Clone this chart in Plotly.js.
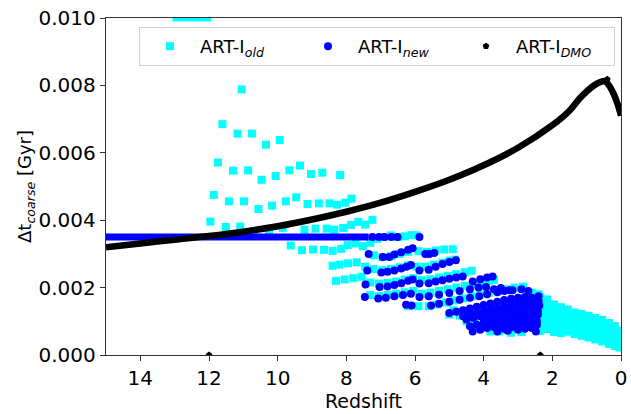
<!DOCTYPE html>
<html><head><meta charset="utf-8">
<script src="https://cdn.plot.ly/plotly-3.0.1.min.js"></script>
<style>body{margin:0;padding:0;background:#fff}#chart{width:631px;height:414px}</style>
</head><body><div id="chart"></div>
<script>
// ---- ART-I old (cyan squares) ----
const oldTopZ = [12.95, 12.8, 12.65, 12.5, 12.35, 12.2, 12.05];
const oldTopY = [0.01002, 0.01002, 0.01002, 0.01002, 0.01002, 0.01002, 0.01002];
const oldHighZ = [11.05, 11.61, 11.17, 10.75, 10.34, 9.94, 11.74, 11.30, 10.86, 10.47, 10.06, 9.66, 9.35, 9.03, 8.70, 8.18,
  11.86, 11.42, 10.98, 10.56, 10.16, 9.76, 9.46, 9.13, 8.80, 8.49, 8.27, 8.03, 7.85,
  11.96, 11.51, 11.09, 10.68, 10.25, 9.85, 9.22, 8.90, 8.57, 8.35, 8.09, 7.86, 7.65, 7.45, 7.24,
  9.62, 9.29, 8.97, 8.65, 8.40, 8.15, 7.96, 7.73, 7.52, 7.30];
const oldHighY = [0.00788, 0.00685, 0.00657, 0.00657, 0.00624, 0.00638, 0.00571, 0.00547, 0.00548, 0.00520, 0.00531, 0.00548, 0.00562, 0.00537, 0.00541, 0.00534,
  0.00475, 0.00456, 0.00456, 0.00433, 0.00443, 0.00456, 0.00468, 0.00448, 0.00450, 0.00450, 0.00446, 0.00452, 0.00464,
  0.00396, 0.00380, 0.00381, 0.00368, 0.00364, 0.00377, 0.00372, 0.00375, 0.00375, 0.00372, 0.00377, 0.00386, 0.00395, 0.00387, 0.00401,
  0.00325, 0.00311, 0.00313, 0.00312, 0.00309, 0.00315, 0.00326, 0.00331, 0.00323, 0.00333];
const oldRowsZ = [7.1, 6.9, 6.7, 6.5, 6.3, 6.1, 5.95,
  7.2, 6.95, 6.7, 6.45, 6.2, 5.9, 5.65, 5.4, 5.15, 4.9,
  8.4, 8.2, 7.95, 7.7, 7.45, 7.2, 6.95, 6.7, 6.45, 6.2, 5.95, 5.7, 5.45, 5.2, 5.0, 4.84,
  8.3, 8.05, 7.8, 7.55, 7.3, 7.05, 6.8, 6.55, 6.3, 6.05, 5.8, 5.55, 5.3, 5.05, 4.8, 4.55, 4.35,
  7.3, 7.05, 6.8, 6.55, 6.3, 6.05, 5.8, 5.55, 5.3, 5.05, 4.8, 4.55, 4.3, 4.05, 3.85, 3.7,
  6.2, 5.9, 5.6, 5.35, 5.1, 4.85, 4.6, 4.35, 4.1, 3.85, 3.6, 3.35, 3.1, 2.85, 2.6, 2.4,
  5.0, 4.88, 4.65, 4.4, 4.15, 3.9, 3.65, 3.4, 3.15, 2.9, 2.65, 2.45,
  4.7, 4.5, 4.25, 4.0, 3.75, 3.5, 3.25, 3.0, 2.75, 2.5,
  4.1, 3.8, 3.55, 3.3, 3.05, 2.8, 2.55,
  3.55, 3.2, 2.9];
const oldRowsY = [0.00345, 0.0035, 0.00355, 0.0035, 0.00352, 0.00356, 0.00355,
  0.00296, 0.00290, 0.00293, 0.00300, 0.00306, 0.00308, 0.00306, 0.00310, 0.00313, 0.00314,
  0.00265, 0.00268, 0.00272, 0.00275, 0.00262, 0.00255, 0.00252, 0.00255, 0.00260, 0.00266, 0.00262, 0.00262, 0.00268, 0.00274, 0.00280, 0.00283,
  0.00220, 0.00224, 0.00228, 0.00232, 0.00215, 0.00212, 0.00214, 0.00218, 0.00224, 0.00228, 0.00222, 0.00225, 0.00230, 0.00235, 0.00240, 0.00246, 0.00250,
  0.00178, 0.00175, 0.00178, 0.00182, 0.00186, 0.00190, 0.00182, 0.00185, 0.00190, 0.00195, 0.00200, 0.00205, 0.00210, 0.00215, 0.00220, 0.00223,
  0.00145, 0.00145, 0.00145, 0.00150, 0.00156, 0.00162, 0.00168, 0.00174, 0.00180, 0.00185, 0.00190, 0.00195, 0.00200, 0.00203, 0.00185, 0.00180,
  0.00120, 0.00133, 0.00128, 0.00132, 0.00138, 0.00144, 0.00150, 0.00156, 0.00162, 0.00168, 0.00172, 0.00160,
  0.00117, 0.00100, 0.00095, 0.00090, 0.00095, 0.00100, 0.00105, 0.00110, 0.00118, 0.00125,
  0.00080, 0.00070, 0.00072, 0.00075, 0.00080, 0.00085, 0.00090,
  0.00070, 0.00066, 0.00068];
const oldBandZ = [2.35, 2.35, 2.35, 2.35, 2.35, 2.35, 2.15, 2.15, 2.15, 2.15, 2.15, 1.95, 1.95, 1.95, 1.95, 1.95,
  1.75, 1.75, 1.75, 1.75, 1.75, 1.55, 1.55, 1.55, 1.55, 1.35, 1.35, 1.35, 1.35, 1.15, 1.15, 1.15, 1.15,
  0.95, 0.95, 0.95, 0.95, 0.75, 0.75, 0.75, 0.75, 0.55, 0.55, 0.55, 0.55, 0.35, 0.35, 0.35, 0.35,
  0.18, 0.18, 0.18, 0.18, 0.03, 0.03, 0.03, 0.03];
const oldBandY = [0.00172, 0.00150, 0.00128, 0.00106, 0.00084, 0.00072, 0.00165, 0.00143, 0.00121, 0.00099, 0.00077, 0.00150, 0.00128, 0.00106, 0.00084, 0.00068,
  0.00142, 0.00120, 0.00098, 0.00076, 0.00065, 0.00135, 0.00113, 0.00091, 0.00069, 0.00126, 0.00104, 0.00082, 0.00062, 0.00122, 0.00100, 0.00078, 0.00057,
  0.00116, 0.00094, 0.00072, 0.00052, 0.00110, 0.00088, 0.00066, 0.00046, 0.00104, 0.00082, 0.00060, 0.00040, 0.00095, 0.00073, 0.00051, 0.00033,
  0.00086, 0.00064, 0.00042, 0.00027, 0.00072, 0.00052, 0.00034, 0.00022];

// ---- ART-I new (blue circles) ----
const newLineZ = [15, 14, 13, 12, 11, 10, 9, 8, 7.35];
const newLineY = [0.0035, 0.0035, 0.0035, 0.0035, 0.0035, 0.0035, 0.0035, 0.0035, 0.0035];
const newDotsZ = [7.24, 7.05, 6.89, 6.69, 6.51, 5.87,
  7.35, 6.94, 6.75, 6.6, 6.4, 6.2, 6.07, 5.7, 5.58, 5.44,
  7.39, 6.98, 6.8, 6.6, 6.4, 6.25, 6.12, 5.87, 5.6, 5.4, 5.2, 5.0, 4.81,
  7.44, 7.03, 6.8, 6.6, 6.4, 6.2, 6.07, 5.87, 5.6, 5.4, 5.2, 5.0, 4.8, 4.61, 4.32, 4.1, 3.9, 3.74,
  7.46, 7.07, 6.85, 6.6, 6.35, 6.12, 5.87, 5.6, 5.3, 5.0, 4.7, 4.4, 4.15, 3.93, 3.7, 3.5, 3.26,
  6.26, 6.1, 5.53, 5.3, 5.0, 4.7, 4.4, 4.13, 3.9, 3.6, 3.4, 3.16, 2.9, 2.7, 2.4,
  5.0, 4.8, 4.6, 4.4, 4.2, 4.0, 3.8, 3.6, 3.4, 3.2, 3.0, 2.8, 2.6, 2.4,
  4.5, 4.3, 4.1, 3.9, 3.7, 3.5, 3.3, 3.1, 2.9, 2.7, 2.5, 2.38,
  4.4, 4.2, 4.0, 3.8, 3.6, 3.4, 3.2, 3.0, 2.8, 2.6, 2.42,
  4.32, 4.1, 3.9, 3.7, 3.5, 3.3, 3.1, 2.9, 2.7, 2.5, 2.45,
  3.6, 3.3, 3.0, 2.8, 2.6, 2.48,
  4.6, 4.4, 4.2, 4.0, 3.8, 3.6, 3.4, 3.2, 3.0, 2.8, 2.6, 2.45,
  4.0, 3.8, 3.6, 3.4, 3.2, 3.0, 2.8, 2.6, 2.42,
  3.8, 3.6, 3.4, 3.2, 3.0, 2.8, 2.6, 2.45,
  3.4, 3.2, 3.0, 2.8, 2.6];
const newDotsY = [0.0035, 0.0035, 0.0035, 0.0035, 0.0035, 0.0035,
  0.00300, 0.00291, 0.00291, 0.00298, 0.00305, 0.00312, 0.00317, 0.00300, 0.00300, 0.00303,
  0.00251, 0.00245, 0.00247, 0.00251, 0.00257, 0.00262, 0.00267, 0.00251, 0.00253, 0.00262, 0.00270, 0.00276, 0.00281,
  0.00209, 0.00202, 0.00203, 0.00208, 0.00213, 0.00220, 0.00224, 0.00212, 0.00213, 0.00218, 0.00222, 0.00226, 0.00230, 0.00233, 0.00218, 0.00225, 0.00230, 0.00233,
  0.00172, 0.00168, 0.00170, 0.00174, 0.00178, 0.00182, 0.00172, 0.00174, 0.00179, 0.00184, 0.00190, 0.00195, 0.00200, 0.00202, 0.00195, 0.00199, 0.00192,
  0.00149, 0.00147, 0.00147, 0.00152, 0.00158, 0.00164, 0.00170, 0.00174, 0.00180, 0.00186, 0.00190, 0.00192, 0.00195, 0.00190, 0.00174,
  0.00125, 0.00128, 0.00133, 0.00138, 0.00143, 0.00148, 0.00153, 0.00158, 0.00163, 0.00167, 0.00170, 0.00172, 0.00170, 0.00160,
  0.00105, 0.00110, 0.00115, 0.00120, 0.00126, 0.00131, 0.00136, 0.00140, 0.00145, 0.00150, 0.00148, 0.00147,
  0.00085, 0.00090, 0.00095, 0.00100, 0.00105, 0.00110, 0.00115, 0.00120, 0.00125, 0.00130, 0.00130,
  0.00070, 0.00075, 0.00080, 0.00083, 0.00087, 0.00090, 0.00095, 0.00100, 0.00105, 0.00110, 0.00090,
  0.00070, 0.00072, 0.00075, 0.00078, 0.00080, 0.00070,
  0.00115, 0.00120, 0.00125, 0.00130, 0.00135, 0.00140, 0.00145, 0.00150, 0.00155, 0.00160, 0.00160, 0.00150,
  0.00110, 0.00113, 0.00118, 0.00122, 0.00126, 0.00130, 0.00135, 0.00140, 0.00120,
  0.00090, 0.00092, 0.00096, 0.00100, 0.00104, 0.00108, 0.00112, 0.00100,
  0.00078, 0.00082, 0.00086, 0.00090, 0.00094];

// ---- ART-I DMO (black pentagons) ----
const dmoZ = [15, 14, 13, 12, 11, 10, 9, 8, 7, 6, 5, 4, 3, 2, 1.5, 1.2, 1.0, 0.8, 0.6, 0.5, 0.4, 0.3, 0.2, 0.1, 0.0];
const dmoY = [0.00320, 0.00331, 0.00342, 0.00353, 0.00366, 0.00382, 0.00402, 0.00425, 0.00452, 0.00484, 0.00520, 0.00563, 0.00615, 0.00682,
  0.00725, 0.00762, 0.00782, 0.00799, 0.00810, 0.00813, 0.00807, 0.00792, 0.00772, 0.00745, 0.00710];
const dmoMarkZ = [12.0, 2.35, 0.4];
const dmoMarkY = [0.0, 0.0, 0.00818];

const names = ['ART-I<sub><i>old</i></sub>', 'ART-I<sub><i>new</i></sub>', 'ART-I<sub><i>DMO</i></sub>'];
const CYAN = '#00ffff', BLUE = '#0000ff', BLACK = '#000000';

const oldZ = oldTopZ.concat(oldHighZ, oldRowsZ, oldBandZ);
const oldY = oldTopY.concat(oldHighY, oldRowsY, oldBandY);

const traces = [
  {x: oldZ, y: oldY, type: 'scatter', mode: 'markers', name: names[0],
   marker: {symbol: 'square', size: 8, color: CYAN}},
  {x: newLineZ, y: newLineY, type: 'scatter', mode: 'lines', showlegend: false, hoverinfo: 'skip',
   line: {color: BLUE, width: 7}},
  {x: newDotsZ, y: newDotsY, type: 'scatter', mode: 'markers', name: names[1],
   marker: {symbol: 'circle', size: 8, color: BLUE}},
  {x: dmoZ, y: dmoY, type: 'scatter', mode: 'lines', showlegend: false, line: {color: BLACK, width: 6.5, shape: 'spline'}},
  {x: dmoMarkZ, y: dmoMarkY, type: 'scatter', mode: 'markers', name: names[2],
   marker: {symbol: 'pentagon', size: 7, color: BLACK}}
];

const layout = {
  width: 631, height: 414,
  margin: {l: 106, r: 10, t: 18, b: 59, autoexpand: false},
  paper_bgcolor: '#fff', plot_bgcolor: '#fff',
  font: {family: 'DejaVu Sans, sans-serif', color: '#000'},
  showlegend: true,
  legend: {orientation: 'h', xref: 'container', yref: 'container', x: 139 / 631, y: 1 - 27 / 414, xanchor: 'left', yanchor: 'top',
    bgcolor: 'rgba(255,255,255,0.8)', bordercolor: '#d0d0d0', borderwidth: 1,
    font: {size: 18, family: 'DejaVu Sans'}, entrywidth: 93, entrywidthmode: 'pixels', itemwidth: 50, traceorder: 'normal'},
  xaxis: {range: [15, 0], dtick: 2, tick0: 0, ticks: 'outside', ticklen: 5, tickwidth: 1, tickcolor: '#333',
    showline: true, linecolor: '#333', linewidth: 1.2, mirror: true, showgrid: false, zeroline: false,
    tickfont: {size: 20}, title: {text: 'Redshift', font: {size: 19}, standoff: 2}},
  yaxis: {range: [0, 0.010], dtick: 0.002, tick0: 0, tickformat: '.3f', ticks: 'outside', ticklen: 5, tickwidth: 1, tickcolor: '#333',
    showline: true, linecolor: '#333', linewidth: 1.2, mirror: true, showgrid: false, zeroline: false,
    tickfont: {size: 20}, title: {text: 'Δt<sub><i>coarse</i></sub> [Gyr]', font: {size: 18}, standoff: 2}}
};
Plotly.newPlot('chart', traces, layout, {displayModeBar: false, staticPlot: true});
</script></body></html>
